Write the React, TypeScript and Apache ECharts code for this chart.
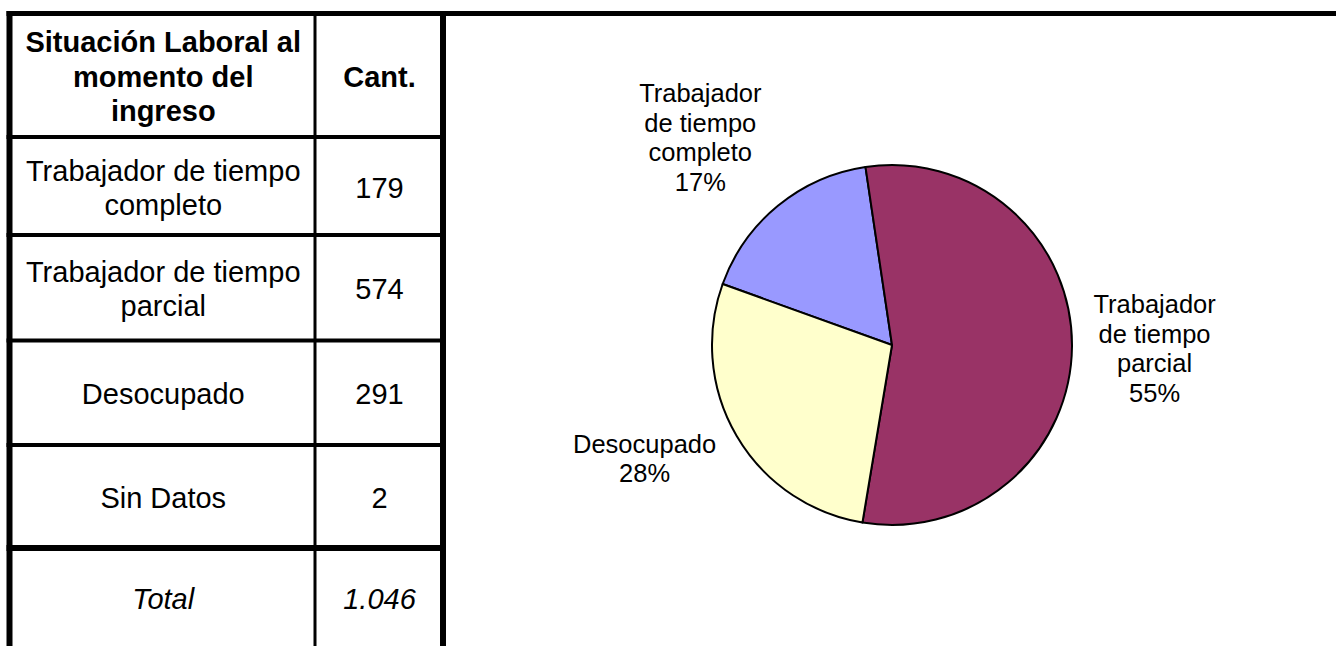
import React, { useEffect, useRef } from 'react';
import * as echarts from 'echarts';

// ---------- data ----------
const headerCategory = 'Situación Laboral al\nmomento del\ningreso';
const headerCount = 'Cant.';
const categories = [
  'Trabajador de tiempo completo',
  'Trabajador de tiempo parcial',
  'Desocupado',
  'Sin Datos',
];
const counts = [179, 574, 291, 2];
const totalLabel = 'Total';
// the pie shows the three categories with data
const pieCategories = categories.slice(0, 3);
const pieValues = counts.slice(0, 3);
const pieColors = ['#9999FF', '#993366', '#FFFFCC'];

// ---------- layout / style ----------
const FONT = "'Liberation Sans', Arial, Helvetica, sans-serif";
const W = 1336;
const H = 646;
const colLeft = 9.5;
const colMid = 315;
const colRight = 443;
const rowLines = [13.5, 137, 235, 340.5, 445, 548];
const rowLineWidths = [5, 4, 4, 4, 4, 6];
const labelNudge: [number, number][] = [
  [0, -54.4],
  [-1.6, 1.8],
  [0, 13.3],
];

function wrap(s: string, max: number): string[] {
  const words = s.split(' ');
  const lines: string[] = [];
  let cur = '';
  for (const w of words) {
    if (!cur) cur = w;
    else if ((cur + ' ' + w).length <= max) cur += ' ' + w;
    else {
      lines.push(cur);
      cur = w;
    }
  }
  if (cur) lines.push(cur);
  return lines;
}

function fmtThousands(n: number): string {
  return String(n).replace(/\B(?=(\d{3})+(?!\d))/g, '.');
}

function cellText(
  text: string,
  x: number,
  y: number,
  opts: { bold?: boolean; italic?: boolean; lh?: number } = {}
) {
  return {
    type: 'text',
    x,
    y,
    silent: true,
    style: {
      text,
      fill: '#000',
      fontFamily: FONT,
      fontSize: 29,
      fontWeight: opts.bold ? 'bold' : 'normal',
      fontStyle: opts.italic ? 'italic' : 'normal',
      align: 'center',
      verticalAlign: 'middle',
      lineHeight: opts.lh ?? 34,
    },
  };
}

function hLine(x1: number, x2: number, y: number, w: number) {
  return {
    type: 'line',
    silent: true,
    shape: { x1, y1: y, x2, y2: y },
    style: { stroke: '#000', lineWidth: w },
  };
}
function vLine(x: number, y1: number, y2: number, w: number) {
  return {
    type: 'line',
    silent: true,
    shape: { x1: x, y1, x2: x, y2 },
    style: { stroke: '#000', lineWidth: w },
  };
}

export default function App() {
  const ref = useRef<HTMLDivElement>(null);

  useEffect(() => {
    if (!ref.current) return;
    const chart = echarts.init(ref.current, null, { renderer: 'svg' });

    const total = counts.reduce((a, b) => a + b, 0);
    const leftCx = (colLeft + colMid) / 2 + 1;
    const rightCx = (colMid + colRight) / 2 + 0.5;

    const graphics: any[] = [];
    // horizontal rules of the table
    rowLines.forEach((y, i) => {
      graphics.push(hLine(colLeft - 3, i === 0 ? W + 5 : colRight + 3, y, rowLineWidths[i]));
    });
    // vertical rules
    graphics.push(vLine(colLeft, 11, H + 5, 6));
    graphics.push(vLine(colMid, 11, H + 5, 3));
    graphics.push(vLine(colRight, 11, H + 5, 6));

    // header
    const headerY = (rowLines[0] + rowLines[1]) / 2 + 1.5;
    graphics.push(cellText(headerCategory, leftCx, headerY, { bold: true, lh: 34.5 }));
    graphics.push(cellText(headerCount, rightCx, headerY, { bold: true }));

    // body rows
    categories.forEach((c, i) => {
      const y = (rowLines[i + 1] + rowLines[i + 2]) / 2 + 1.5;
      graphics.push(cellText(wrap(c, 20).join('\n'), leftCx, y));
      graphics.push(cellText(String(counts[i]), rightCx, y));
    });

    // total row
    const totalY = 599;
    graphics.push(cellText(totalLabel, leftCx, totalY, { italic: true }));
    graphics.push(cellText(fmtThousands(total), rightCx, totalY, { italic: true }));

    chart.setOption({
      animation: false,
      backgroundColor: '#fff',
      graphic: { elements: graphics },
      series: [
        {
          type: 'pie',
          center: [892, 345],
          radius: 180,
          startAngle: 160.2,
          clockwise: true,
          avoidLabelOverlap: false,
          silent: true,
          emphasis: { disabled: true },
          itemStyle: { borderColor: '#000', borderWidth: 2 },
          data: pieCategories.map((n, i) => ({
            name: n,
            value: pieValues[i],
            itemStyle: { color: pieColors[i] },
          })),
          label: {
            show: true,
            position: 'outside',
            distanceToLabelLine: 5,
            formatter: (p: any) =>
              [...wrap(p.name, 10), Math.round(p.percent) + '%']
                .map((l) => `{c|${l}}`)
                .join('\n'),
            rich: {
              c: {
                align: 'center',
                fontFamily: FONT,
                fontSize: 25.5,
                lineHeight: 29.5,
                color: '#000',
              },
            },
          },
          labelLine: { show: false, length: 18, length2: 0 },
          labelLayout: (p: any) => ({
            dx: labelNudge[p.dataIndex][0],
            dy: labelNudge[p.dataIndex][1],
          }),
        },
      ],
    });

    return () => chart.dispose();
  }, []);

  return (
    <div
      ref={ref}
      style={{ position: 'fixed', left: 0, top: 0, width: W, height: H, background: '#fff' }}
    />
  );
}
